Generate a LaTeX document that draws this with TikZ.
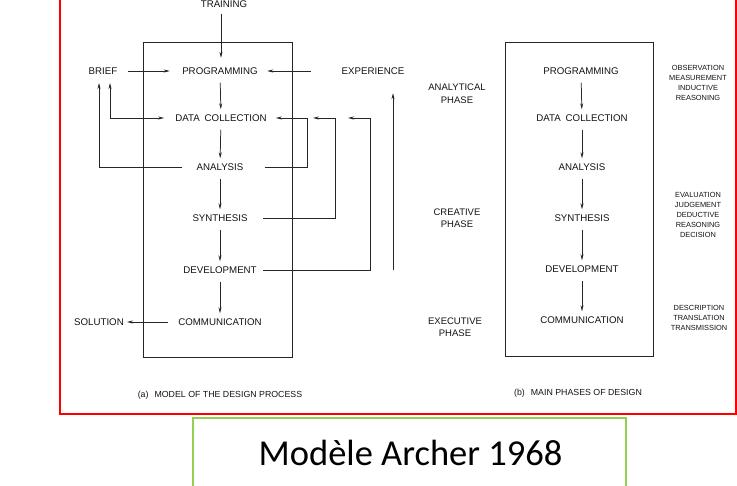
\documentclass[tikz,border=0pt]{standalone}
\usepackage{fontspec}
\setmainfont{Liberation Sans}
\newfontfamily\carl{Carlito}
\usetikzlibrary{arrows.meta,calc}
\begin{document}
\begin{tikzpicture}[x=1pt,y=-1pt,
  lbl/.style={font=\fontsize{9.7}{11}\selectfont, inner sep=0pt, text height=7pt, text depth=0pt, text=black!92},
  phase/.style={font=\fontsize{9.5}{12.5}\selectfont, align=center, inner sep=0pt, text=black!92},
  small/.style={font=\fontsize{7.4}{10}\selectfont, align=center, inner sep=0pt, text=black!92},
  capt/.style={font=\fontsize{8.8}{10}\selectfont, inner sep=0pt, text height=6.3pt, text depth=0pt, text=black!92},
  ln/.style={draw=black!85, line width=0.75pt},
  arr/.style={ln, -{Stealth[length=6pt,width=3pt]}},
  flow/.style={arr, shorten <=8pt, shorten >=5pt},
  frame/.style={draw=black!85, line width=0.8pt},
]
\useasboundingbox (0,0) rectangle (737,486);
\clip (0,0) rectangle (737,486);
\fill[white] (0,0) rectangle (737,486);

% outer frames
\draw[red, line width=1.3pt] (60,-10) rectangle (736,414);
\draw[draw={rgb,255:red,146;green,208;blue,80}, line width=1.2pt] (193,418) rectangle (626,500);
\node[font=\carl\fontsize{36.5}{40}\selectfont, anchor=base, inner sep=0pt] (title) at (410.5,466) {Modèle Archer 1968};

% ---------- (a) model of the design process ----------
\draw[frame] (143,42) rectangle (292,357);
\node[lbl] (train) at (224,3.8) {TRAINING};
\node[lbl] (prog) at (220,71) {PROGRAMMING};
\node[lbl] (brief) at (103,71) {BRIEF};
\node[lbl] (exp) at (373,71) {EXPERIENCE};
\node[lbl] (dc) at (221,118) {DATA\hspace{5pt}COLLECTION};
\node[lbl] (ana) at (220,167) {ANALYSIS};
\node[lbl] (syn) at (220,218) {SYNTHESIS};
\node[lbl] (dev) at (220,270) {DEVELOPMENT};
\node[lbl] (com) at (220,322) {COMMUNICATION};
\node[lbl] (sol) at (99,322) {SOLUTION};
\node[capt] (capa) at (220,394) {(a)\hspace{6pt}MODEL OF THE DESIGN PROCESS};

\coordinate (b1) at (99,83);
\coordinate (b2) at (110,83);
\coordinate (lp1) at (307,118);
\coordinate (lp2) at (335,118);
\coordinate (lp3) at (370,118);
\coordinate (t2) at (313,118);
\coordinate (t3) at (348,118);
\coordinate (ex1) at (393,270);
\coordinate (tr) at (221,3.8);

\draw[arr, shorten <=10pt, shorten >=9.5pt] (tr) -- (tr |- prog.north);
\draw[flow] (prog) -- (dc);
\draw[flow] (dc) -- (ana);
\draw[flow] (ana) -- (syn);
\draw[flow] (syn) -- (dev);
\draw[flow] (dev) -- (com);

\draw[arr, shorten <=10.7pt, shorten >=12.3pt] (brief) -- (prog);
\draw[arr, shorten <=30.7pt, shorten >=9.3pt] (exp) -- (prog);
\draw[arr, shorten <=14pt] (ana.west) -| (b1);
\draw[ln, {Stealth[length=6pt,width=3pt]}-{Stealth[length=6pt,width=3pt]}, shorten >=11pt] (b2) |- (dc.west);
\draw[arr, shorten <=21pt, shorten >=9pt] (ana.east) -| (lp1) -- (dc.east);
\draw[arr, shorten <=15.5pt] (syn.east) -| (lp2) -- (t2);
\draw[arr, shorten <=6.3pt] (dev.east) -| (lp3) -- (t3);
\draw[arr, shorten >=18.5pt] (ex1) -- (ex1 |- exp.south);
\draw[arr, shorten <=10pt, shorten >=3pt] (com) -- (sol);

% ---------- (b) main phases of design ----------
\draw[frame] (505,42) rectangle (653,356);
\node[lbl] (rprog) at (581,71) {PROGRAMMING};
\node[lbl] (rdc) at (582,118) {DATA\hspace{5pt}COLLECTION};
\node[lbl] (rana) at (582,167) {ANALYSIS};
\node[lbl] (rsyn) at (582,218) {SYNTHESIS};
\node[lbl] (rdev) at (582,269) {DEVELOPMENT};
\node[lbl] (rcom) at (582,320) {COMMUNICATION};
\draw[flow] (rprog) -- (rdc);
\draw[flow] (rdc) -- (rana);
\draw[flow] (rana) -- (rsyn);
\draw[flow] (rsyn) -- (rdev);
\draw[flow] (rdev) -- (rcom);

\node[phase] (pan) at (457,93.5) {ANALYTICAL\\PHASE};
\node[phase] (pcr) at (457,218) {CREATIVE\\PHASE};
\node[phase] (pex) at (455,327) {EXECUTIVE\\PHASE};

\node[small] (qan) at (698,83) {OBSERVATION\\MEASUREMENT\\INDUCTIVE\\REASONING};
\node[small] (qcr) at (698,215) {EVALUATION\\JUDGEMENT\\DEDUCTIVE\\REASONING\\DECISION};
\node[small] (qex) at (699,318) {DESCRIPTION\\TRANSLATION\\TRANSMISSION};

\node[capt] (capb) at (578,392) {(b)\hspace{6pt}MAIN PHASES OF DESIGN};
\end{tikzpicture}
\end{document}
